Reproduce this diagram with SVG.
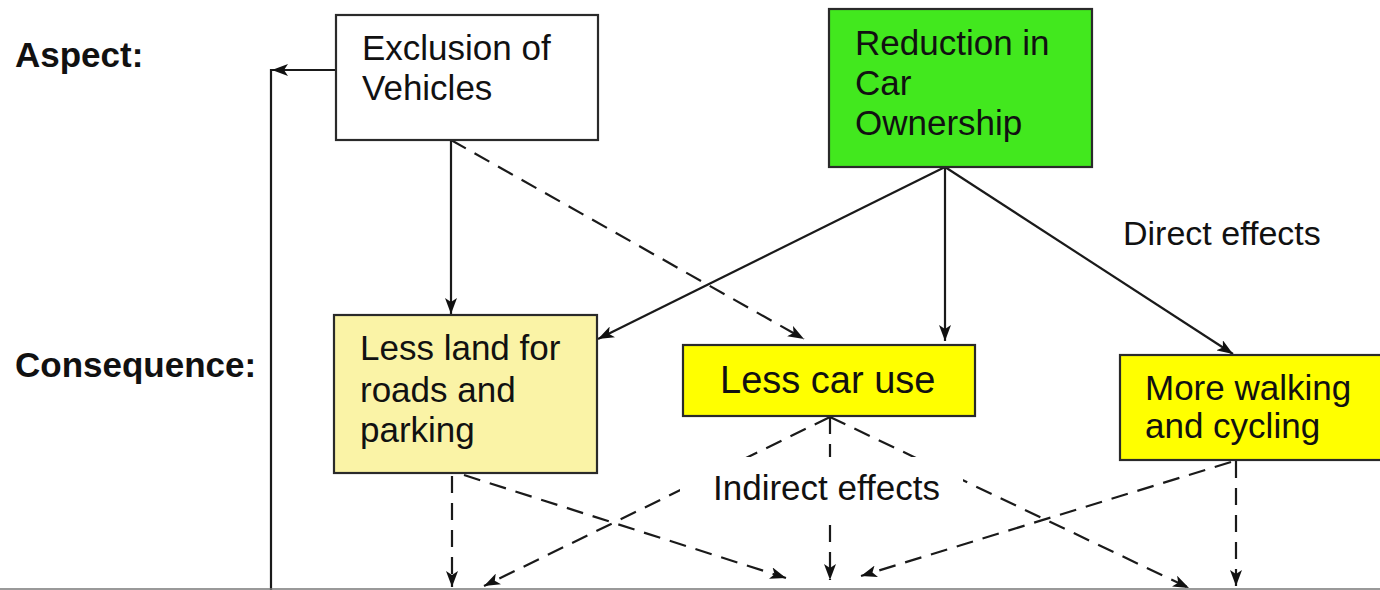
<svg xmlns="http://www.w3.org/2000/svg" width="1380" height="590" viewBox="0 0 1380 590">
  <style>
    .t { font-family: "Liberation Sans", Arial, sans-serif; font-size: 35px; fill: #111; }
    .lab { font-family: "Liberation Sans", Arial, sans-serif; font-size: 35px; font-weight: bold; fill: #111; }
    .box { stroke: #2a2a2a; stroke-width: 2.2; }
    .sol { fill: none; stroke: #1a1a1a; stroke-width: 2.2; }
    .dash { fill: none; stroke: #1a1a1a; stroke-width: 2.2; stroke-dasharray: 17 10; }
  </style>
  <defs>
    <marker id="ah" viewBox="0 0 16 12" refX="16" refY="6" markerWidth="16" markerHeight="12" markerUnits="userSpaceOnUse" orient="auto">
      <path d="M0,0 L16,6 L0,12 L4,6 z" fill="#111" stroke="none"/>
    </marker>
  </defs>
  <rect width="1380" height="590" fill="#fff"/>

  <g id="labels">
    <text class="lab" x="15" y="67">Aspect:</text>
    <text class="lab" x="15" y="377">Consequence:</text>
  </g>

  <g id="connectors">
    <path class="sol" d="M271,590 L271,70 L336,70"/>
    <path class="sol" d="M336,70 L272,70" marker-end="url(#ah)"/>
    <path class="sol" d="M451,140 L451,314" marker-end="url(#ah)"/>
    <path class="dash" d="M451,140 L804,339" marker-end="url(#ah)"/>
    <path class="sol" d="M945,167 L598,339" marker-end="url(#ah)"/>
    <path class="sol" d="M945,167 L945,341" marker-end="url(#ah)"/>
    <path class="sol" d="M945,167 L1233,354" marker-end="url(#ah)"/>
    <path class="dash" d="M452,476 L452,587" marker-end="url(#ah)"/>
    <path class="dash" d="M464,475 L786,578" marker-end="url(#ah)"/>
    <path class="dash" d="M830,417 L484,586" marker-end="url(#ah)"/>
    <path class="dash" d="M830,417 L830,580" marker-end="url(#ah)"/>
    <path class="dash" d="M830,417 L1189,588" marker-end="url(#ah)"/>
    <path class="dash" d="M1236,461 L1236,586" marker-end="url(#ah)"/>
    <path class="dash" d="M1231,462 L861,576" marker-end="url(#ah)"/>
    <line x1="0" y1="589" x2="1380" y2="589" stroke="#777" stroke-width="1.5"/>
  </g>

  <g id="exclusion">
    <rect class="box" x="336" y="15" width="262" height="125" fill="#ffffff"/>
    <text class="t" x="362" y="60">Exclusion of</text>
    <text class="t" x="362" y="100">Vehicles</text>
  </g>

  <g id="reduction">
    <rect class="box" x="829" y="9" width="263" height="158" fill="#42e81e"/>
    <text class="t" x="855" y="55">Reduction in</text>
    <text class="t" x="855" y="95">Car</text>
    <text class="t" x="855" y="135">Ownership</text>
  </g>

  <g id="direct-label">
    <text class="t" x="1123" y="245" style="font-size:34px">Direct effects</text>
  </g>

  <g id="less-land">
    <rect class="box" x="334" y="315" width="263" height="158" fill="#faf3a6"/>
    <text class="t" x="360" y="360">Less land for</text>
    <text class="t" x="360" y="402">roads and</text>
    <text class="t" x="360" y="442">parking</text>
  </g>

  <g id="less-car-use">
    <rect class="box" x="683" y="345" width="292" height="71" fill="#ffff00"/>
    <text class="t" x="720" y="393" style="font-size:38px">Less car use</text>
  </g>

  <g id="more-walking">
    <rect class="box" x="1120" y="355" width="270" height="105" fill="#ffff00"/>
    <text class="t" x="1145" y="400">More walking</text>
    <text class="t" x="1145" y="438">and cycling</text>
  </g>

  <g id="indirect-label">
    <rect x="680" y="457" width="283" height="64" fill="#ffffff"/>
    <text class="t" x="713" y="500">Indirect effects</text>
  </g>
</svg>
